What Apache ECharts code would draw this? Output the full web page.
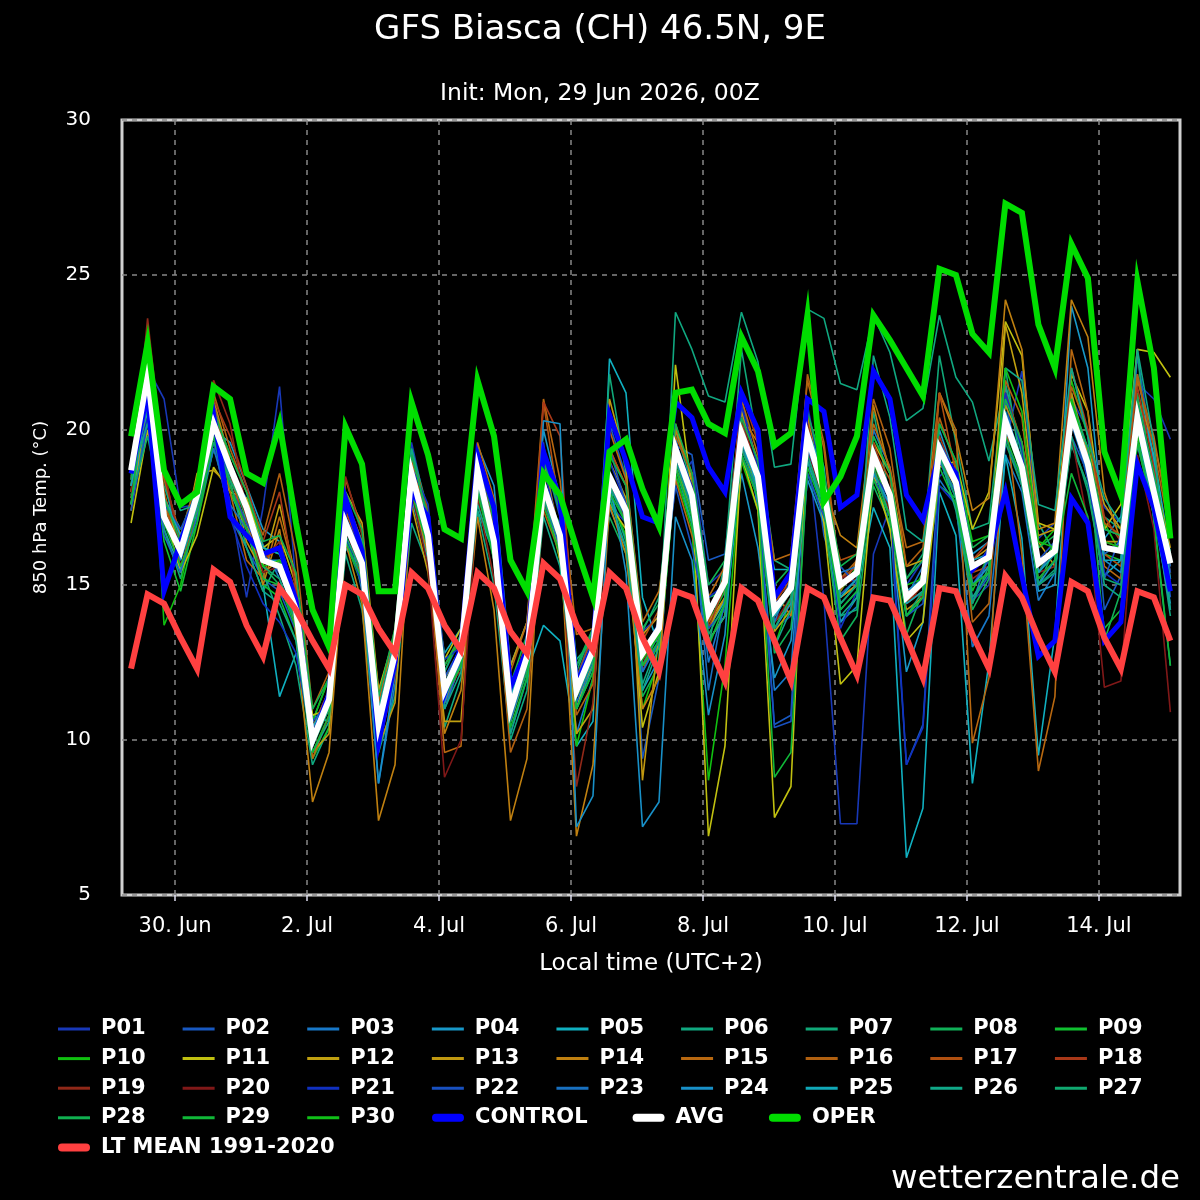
<!DOCTYPE html>
<html><head><meta charset="utf-8">
<script src="https://cdn.jsdelivr.net/npm/echarts@6/dist/echarts.min.js"></script>
<style>html,body{margin:0;padding:0;background:#000}#c{width:1200px;height:1200px}</style>
</head><body><div id="c"></div><script>
// lead time (hours after init 29 Jun 2026 00Z)
const leadHours = [6,12,18,24,30,36,42,48,54,60,66,72,78,84,90,96,102,108,114,120,126,132,138,144,150,156,162,168,174,180,186,192,198,204,210,216,222,228,234,240,246,252,258,264,270,276,282,288,294,300,306,312,318,324,330,336,342,348,354,360,366,372,378,384];
// x ticks: local midnight (UTC+2) as lead hours
const tickHours = [22,70,118,166,214,262,310,358];
const tickLabels = ['30. Jun','2. Jul','4. Jul','6. Jul','8. Jul','10. Jul','12. Jul','14. Jul'];

const P01 = [18.2,22.0,21.0,17.5, 17.6,19.8,17.7,14.6, 17.5,21.4,15.0,10.4, 11.6,17.4,16.0,10.8, 13.0,19.6,17.2,11.0, 12.5,18.2,17.5,10.2, 12.0,19.6,16.0,12.0, 13.5,17.6,17.0,13.5, 14.0,18.2,19.0,15.0, 15.5,21.0,18.8,13.6, 14.0,19.5,14.5,7.3, 7.3,16.0,17.5,15.0, 15.8,18.5,19.0,14.5, 15.0,19.5,21.9,16.5, 17.0,21.0,20.0,17.5, 17.0,21.5,21.0,19.7];
const P02 = [18.0,21.2,18.5,15.8, 17.5,19.6,17.2,16.2, 15.2,14.8,13.5,10.4, 11.0,16.6,15.0,10.2, 12.4,18.9,17.0,12.2, 13.3,19.4,17.0,11.5, 13.0,19.0,17.5,11.0, 12.5,20.2,18.5,9.4, 12.0,19.5,19.2,15.8, 16.0,20.8,17.5,10.5, 10.8,20.5,16.6,14.7, 15.2,18.8,17.3,9.2, 10.5,19.0,17.8,14.5, 15.3,21.0,18.2,15.2, 15.8,22.0,19.8,14.2, 15.3,22.4,19.0,14.6];
const P03 = [17.6,20.3,17.0,16.4, 17.9,20.5,18.6,17.8, 16.3,15.2,13.7,9.8, 11.5,17.2,14.8,8.6, 11.8,18.0,15.8,11.2, 12.6,19.0,16.8,10.6, 13.1,17.6,16.2,10.2, 12.0,18.0,16.5,12.6, 13.5,19.8,17.2,12.5, 14.4,20.5,17.5,11.6, 12.2,19.5,17.0,13.8, 14.3,20.0,18.8,14.0, 14.6,18.4,17.6,13.0, 14.0,19.2,18.0,14.5, 15.4,20.2,19.4,16.8, 16.6,19.5,17.5,14.2];
const P04 = [18.4,21.6,16.8,15.5, 17.4,20.0,19.6,18.2, 16.8,16.4,14.4,10.6, 12.0,17.8,16.4,11.2, 13.4,19.2,16.6,12.0, 13.0,19.5,18.2,12.4, 13.8,20.0,17.8,12.4, 13.4,17.5,16.2,11.6, 12.6,19.0,17.8,13.2, 14.0,18.6,16.2,12.0, 13.2,18.4,17.0,13.8, 14.6,18.6,16.9,12.2, 13.8,20.0,18.4,16.0, 16.4,21.4,19.2,14.8, 15.0,24.0,22.0,16.5, 17.2,21.8,19.0,15.0];
const P05 = [18.0,20.6,17.8,16.8, 17.2,19.4,18.0,16.8, 15.0,11.4,12.8,10.8, 10.6,16.2,15.4,11.0, 12.6,17.8,15.8,12.8, 13.6,17.4,16.0,12.0, 12.2,13.7,13.2,9.8, 10.6,22.3,21.2,14.6, 13.0,18.5,17.0,13.6, 14.5,19.0,18.0,15.5, 15.5,20.5,18.8,14.2, 14.8,17.5,16.2,6.2, 7.8,18.0,16.6,8.6, 12.5,19.2,16.5,9.5, 13.4,21.2,18.6,15.3, 15.8,21.0,19.2,16.0];
const P06 = [17.8,20.0,18.2,16.6, 18.4,20.8,19.0,17.0, 15.4,14.0,12.4,9.2, 10.4,16.0,14.2,9.6, 11.4,17.0,15.6,10.4, 12.0,17.4,15.0,10.0, 11.6,17.8,16.0,11.0, 12.2,18.0,16.4,11.8, 13.2,23.8,22.6,21.1, 20.9,23.8,22.2,18.8, 18.9,23.9,23.6,21.5, 21.3,23.7,22.5,20.3, 20.7,23.7,21.7,20.9, 19.0,21.5,19.2,17.0, 16.0,19.5,18.2,15.0, 14.6,20.0,17.6,14.0];
const P07 = [17.9,20.4,16.8,15.2, 18.2,20.2,18.4,16.2, 14.8,15.8,14.6,10.2, 11.2,16.8,15.6,10.4, 12.8,19.4,17.4,11.8, 12.4,18.8,16.8,11.4, 13.0,18.6,17.8,12.6, 13.2,21.8,18.6,13.5, 14.6,20.0,18.2,13.0, 15.8,22.6,19.5,15.8, 15.5,19.8,17.5,14.0, 14.2,20.6,17.8,15.2, 16.0,22.4,19.6,16.8, 17.0,22.0,18.6,15.0, 15.5,19.6,18.2,17.2, 16.8,22.6,17.0,12.4];
const P08 = [18.5,21.2,17.6,16.4, 17.8,19.8,18.4,17.2, 15.6,15.0,13.8,10.0, 11.6,17.6,16.2,10.8, 13.2,18.4,16.4,12.2, 13.4,18.0,16.0,10.6, 12.2,17.8,17.0,12.2, 13.6,17.2,16.0,11.4, 12.4,18.8,17.4,14.6, 14.8,19.6,18.2,12.8, 13.6,18.6,17.2,13.2, 14.0,18.2,17.0,13.4, 14.8,18.2,17.8,14.2, 15.2,20.6,18.4,15.0, 16.2,20.2,19.4,13.2, 14.8,21.2,18.0,15.8];
const P09 = [18.0,20.8,16.4,14.8, 17.0,19.4,18.0,17.0, 15.0,14.6,13.2,9.4, 10.4,16.4,15.0,10.4, 12.2,18.2,16.0,11.2, 12.6,18.4,16.2,11.2, 12.6,18.0,16.4,11.4, 12.8,18.4,17.0,12.4, 13.0,19.2,18.0,13.8, 14.8,19.6,18.6,14.6, 15.0,19.4,18.2,15.2, 15.6,19.0,17.4,14.4, 15.4,19.6,18.0,14.8, 16.0,20.0,18.6,15.4, 16.4,20.4,18.4,16.0, 15.8,20.2,17.6,15.4];
const P10 = [18.2,22.6,13.7,15.0, 17.6,20.6,19.2,18.0, 16.2,16.0,14.8,10.6, 12.0,17.2,15.8,10.0, 12.2,18.8,17.0,12.4, 13.2,19.0,16.6,10.8, 13.0,18.0,15.8,9.8, 12.0,17.8,16.6,11.0, 12.6,18.6,16.8,8.7, 12.4,19.0,17.4,13.0, 14.6,20.2,18.2,14.8, 15.6,19.8,18.6,15.0, 15.2,20.2,19.0,16.4, 16.6,21.2,19.6,16.2, 16.8,21.6,19.8,17.0, 16.0,19.8,17.4,14.8];
const P11 = [17.0,20.0,17.4,15.4, 16.6,18.8,18.0,17.8, 16.2,16.6,15.0,10.8, 11.0,16.8,16.2,11.6, 13.4,18.4,17.0,12.6, 13.6,18.6,16.2,10.6, 12.4,18.4,15.8,11.0, 12.8,17.6,16.8,10.4, 12.2,22.1,18.0,6.9, 9.8,19.2,17.4,7.5, 8.5,19.8,17.0,11.8, 12.4,18.6,16.8,13.2, 13.8,18.8,19.0,16.8, 18.0,23.5,22.4,17.0, 16.8,21.8,20.6,16.8, 17.6,22.6,22.5,21.7];
const P12 = [17.4,21.0,18.0,16.0, 18.6,18.7,18.2,17.0, 15.6,17.6,15.2,9.6, 10.2,18.0,17.0,11.6, 13.0,17.6,15.4,10.6, 10.6,18.0,17.2,12.4, 13.8,18.6,15.8,10.2, 11.0,19.0,17.8,13.4, 14.0,20.2,18.4,13.8, 14.6,20.6,19.0,13.5, 14.2,20.0,18.4,14.6, 15.0,19.6,18.6,15.6, 15.8,19.0,18.2,15.0, 15.4,23.4,21.2,16.4, 15.6,20.8,19.4,17.6, 16.8,20.8,18.4,15.2];
const P13 = [17.8,21.4,17.0,16.2, 17.4,20.4,18.8,16.4, 15.4,15.8,14.0,9.8, 11.4,17.2,15.2,9.8, 11.2,18.6,16.8,12.0, 12.8,19.0,16.6,10.8, 12.6,18.2,16.4,11.4, 12.4,21.0,19.0,8.7, 13.4,18.8,17.4,13.6, 14.6,19.4,18.2,14.0, 14.8,19.6,17.8,14.6, 15.0,18.8,17.2,14.2, 14.6,19.2,18.6,15.8, 16.2,20.8,19.6,16.6, 16.8,21.2,19.2,16.4, 16.4,20.6,18.6,16.2];
const P14 = [17.6,22.0,17.8,16.0, 18.0,21.0,19.0,17.2, 15.0,16.8,13.4,8.0, 9.6,16.4,14.4,7.4, 9.2,18.0,16.0,10.2, 11.6,17.2,14.2,7.4, 9.4,19.0,16.6,6.9, 9.2,17.6,16.0,11.0, 12.0,20.0,18.6,13.2, 14.0,20.4,19.6,14.8, 14.0,20.4,18.2,16.6, 16.2,20.8,18.6,14.4, 14.8,21.2,19.8,17.4, 17.8,24.2,22.6,16.8, 17.0,24.2,23.0,18.0, 16.4,21.0,19.6,17.2];
const P15 = [18.2,22.2,17.6,16.0, 17.8,20.6,18.0,15.8, 15.2,17.2,15.2,9.4, 10.8,18.4,16.8,11.2, 13.6,18.2,16.2,9.6, 9.8,19.6,17.8,12.2, 13.8,21.0,18.4,13.4, 13.6,20.0,18.4,13.8, 14.8,18.4,16.6,14.6, 15.6,21.0,19.2,15.8, 16.0,21.6,19.4,14.8, 15.8,20.2,18.8,16.2, 16.4,21.2,20.0,9.9, 12.0,20.4,16.0,9.0, 11.4,22.6,20.6,15.6, 15.2,21.6,19.8,16.8];
const P16 = [18.0,21.8,18.4,16.6, 18.4,21.2,19.4,18.0, 16.6,18.6,16.0,11.0, 12.2,17.8,16.4,10.6, 12.6,19.0,17.0,11.2, 12.4,18.4,15.8,9.6, 11.0,17.4,16.0,10.8, 11.8,19.4,18.2,12.2, 13.6,19.8,18.6,14.2, 15.0,20.0,18.8,13.8, 14.4,21.8,19.6,15.2, 15.8,21.0,19.4,15.6, 16.2,20.4,18.8,13.8, 14.4,21.6,20.4,15.8, 16.0,21.4,20.0,17.0, 16.6,21.8,19.4,16.6];
const P17 = [18.4,22.4,18.0,15.6, 17.2,20.8,18.6,16.8, 15.8,16.2,14.8,10.4, 11.6,17.4,16.0,10.6, 13.0,19.2,17.4,12.4, 13.4,19.2,16.8,11.6, 13.2,20.9,17.4,12.0, 13.4,19.4,18.2,13.2, 14.2,19.6,17.6,13.8, 15.4,20.2,18.4,14.4, 15.2,19.6,17.8,15.8, 16.0,19.4,18.4,14.8, 15.0,21.2,18.6,15.4, 15.6,20.2,19.0,15.4, 16.2,20.8,19.0,16.0, 15.6,20.6,18.2,15.0];
const P18 = [18.6,23.2,18.6,16.4, 17.6,21.0,19.8,18.2, 16.4,18.0,14.8,10.2, 11.4,17.0,15.2,10.0, 12.4,18.6,16.2,11.4, 12.8,18.8,16.4,11.0, 12.6,20.9,19.8,11.8, 12.6,18.6,17.0,12.6, 13.4,19.6,18.0,13.6, 15.0,21.2,19.6,14.0, 14.8,20.6,18.4,15.2, 15.6,19.6,18.0,14.4, 15.0,19.8,18.4,15.8, 16.4,21.2,19.6,15.6, 16.2,22.0,20.0,17.2, 16.4,21.4,18.8,15.6];
const P19 = [18.0,23.6,18.8,16.0, 17.8,21.6,20.2,17.4, 15.8,16.4,14.6,9.6, 10.8,18.5,16.6,9.8, 12.0,18.2,16.8,11.8, 12.2,17.8,15.2,10.8, 12.4,17.6,16.6,8.5, 11.2,18.2,17.4,12.4, 13.8,19.4,18.2,14.2, 15.2,20.4,18.6,14.6, 15.0,20.2,18.0,15.0, 15.2,19.4,17.8,14.8, 14.6,19.2,18.2,15.2, 15.6,20.2,18.6,15.4, 15.6,20.4,19.0,16.4, 16.2,20.6,18.0,15.4];
const P20 = [17.8,21.6,17.4,16.2, 17.6,20.4,18.8,17.2, 15.4,15.6,14.2,10.2, 11.2,16.8,15.4,10.2, 12.6,18.0,15.6,8.8, 10.0,18.0,16.4,11.2, 12.8,18.0,16.2,11.6, 12.6,18.4,17.2,12.6, 13.4,19.2,17.8,14.2, 15.0,19.6,18.2,13.8, 14.6,19.4,17.6,15.2, 15.4,18.8,17.4,14.4, 14.8,19.0,18.0,15.4, 16.0,20.4,18.6,15.2, 15.8,19.8,17.0,11.7, 11.9,19.2,16.8,10.9];
const P21 = [18.4,20.4,17.0,16.4, 18.2,19.6,17.2,15.6, 14.4,13.8,12.8,9.8, 11.6,16.6,15.0,10.6, 12.8,18.8,17.6,12.6, 13.0,19.2,16.6,11.2, 12.4,18.8,16.6,11.8, 13.0,19.0,17.6,12.2, 13.2,19.6,18.2,14.6, 15.0,20.8,18.8,14.4, 14.8,20.8,18.0,13.6, 14.8,18.6,17.8,9.2, 10.4,18.2,17.6,15.4, 16.2,21.2,19.4,15.0, 15.4,20.4,18.4,15.4, 15.0,20.6,18.4,15.2];
const P22 = [17.4,20.2,17.6,16.8, 18.0,20.4,18.2,17.0, 16.0,15.4,14.0,10.6, 11.2,17.2,16.0,10.8, 12.6,18.4,16.8,12.0, 13.0,18.8,16.4,11.4, 12.8,19.2,17.2,12.0, 13.2,19.4,17.6,12.8, 13.8,18.2,16.2,13.6, 14.2,19.2,18.0,10.4, 10.6,18.6,17.2,15.6, 15.0,18.4,17.6,14.0, 14.4,19.6,18.6,15.0, 15.8,19.8,18.2,15.8, 16.4,19.8,18.6,15.2, 16.6,21.0,18.4,15.4];
const P23 = [18.2,20.8,16.6,15.4, 17.2,19.4,17.6,16.8, 15.8,15.6,14.6,10.0, 11.4,16.4,15.2,9.6, 12.4,18.2,16.2,11.0, 12.6,18.4,15.8,10.6, 12.4,17.8,16.2,11.2, 12.6,18.2,17.2,12.2, 13.2,19.0,17.6,11.6, 14.6,19.4,18.4,13.8, 15.2,19.4,18.0,15.4, 15.6,18.6,17.6,14.6, 15.6,19.0,18.0,14.4, 16.0,20.0,18.8,15.4, 16.2,20.2,18.6,16.0, 16.4,20.4,18.2,15.6];
const P24 = [17.6,21.2,17.4,15.8, 17.6,20.0,18.6,17.4, 15.8,15.8,14.2,10.0, 11.0,16.8,15.6,8.6, 12.2,18.6,16.8,11.2, 12.8,18.4,16.0,10.8, 12.6,20.3,20.2,7.2, 8.2,18.4,15.4,7.2, 8.0,17.2,15.8,10.8, 13.4,20.0,18.0,13.6, 14.4,19.0,17.4,14.4, 15.0,18.6,17.6,14.8, 15.2,19.6,18.2,15.0, 15.6,20.6,19.0,15.0, 15.8,20.8,19.4,15.8, 15.4,20.2,17.2,14.4];
const P25 = [18.2,21.0,17.8,16.6, 18.0,20.2,18.6,17.6, 16.2,16.0,14.4,10.4, 11.4,17.0,15.8,10.6, 12.8,18.8,16.8,11.8, 13.0,18.6,16.6,11.4, 12.8,18.4,16.8,11.8, 13.0,18.6,17.4,12.8, 13.6,19.4,17.6,14.0, 15.0,19.6,18.2,14.0, 14.8,20.0,18.6,14.6, 15.2,19.4,18.0,14.4, 14.8,19.4,18.6,15.8, 16.0,20.2,18.6,15.4, 16.0,20.6,18.8,15.8, 15.8,20.4,18.2,15.2];
const P26 = [18.6,20.2,18.8,17.4, 17.6,19.8,17.4,16.2, 14.8,14.4,13.2,9.6, 10.6,17.6,16.4,11.0, 13.2,19.4,17.0,11.0, 12.2,17.6,16.0,10.2, 12.0,17.2,15.6,11.0, 12.4,17.8,16.2,11.6, 13.0,18.8,17.0,13.2, 14.0,19.2,17.8,13.0, 14.2,19.0,17.6,14.0, 14.6,22.4,20.4,16.8, 16.4,19.2,17.4,14.6, 15.4,22.0,21.6,17.6, 17.4,22.0,19.8,17.8, 17.0,22.6,19.6,14.2];
const P27 = [17.8,19.8,17.2,16.0, 17.4,19.6,18.4,17.4, 15.6,15.2,13.8,9.8, 11.0,16.6,15.4,10.0, 12.4,18.2,16.4,11.4, 12.4,18.2,16.0,10.8, 12.4,17.8,16.4,11.4, 12.6,18.2,17.0,12.4, 13.4,19.0,17.4,13.4, 14.4,19.4,18.0,13.6, 14.6,19.2,17.6,14.4, 15.0,18.8,17.2,14.0, 14.8,19.2,17.8,14.4, 15.6,19.6,18.2,15.0, 15.4,19.8,18.0,15.2, 15.0,19.6,17.8,15.0];
const P28 = [18.4,21.4,17.8,16.4, 18.2,20.6,19.2,18.0, 16.4,16.6,15.4,11.0, 12.0,18.0,16.8,11.4, 13.6,19.2,17.2,12.4, 13.4,19.4,17.0,11.8, 13.4,19.0,17.4,12.4, 13.6,19.2,18.2,13.6, 14.4,20.2,18.6,15.0, 15.8,20.4,19.0,15.0, 15.6,20.6,18.6,15.6, 16.0,19.8,18.6,15.2, 15.8,20.2,19.0,16.2, 16.6,21.0,19.6,16.2, 16.6,21.0,19.4,16.8, 16.6,21.0,18.6,16.0];
const P29 = [17.6,21.8,17.0,15.6, 17.0,19.8,18.2,16.8, 15.2,15.0,13.6,9.6, 10.8,16.4,15.2,10.0, 12.2,18.0,16.2,11.4, 12.4,18.0,15.8,10.4, 12.0,17.6,16.0,11.0, 12.2,18.0,17.0,12.4, 13.2,18.8,17.2,13.0, 14.4,19.2,17.8,8.8, 9.6,18.8,17.4,14.2, 14.8,18.4,17.2,14.0, 14.6,18.8,17.6,15.0, 15.4,19.8,18.4,15.2, 15.8,18.6,17.2,13.6, 14.2,19.6,17.2,12.4];
const P30 = [18.6,22.0,17.4,16.0, 18.0,20.2,18.8,17.6, 15.6,15.8,14.4,10.2, 11.4,17.0,15.8,10.4, 12.8,18.6,16.6,11.6, 12.8,18.6,16.4,11.0, 12.6,18.2,16.6,11.6, 12.8,18.4,17.4,12.6, 13.4,19.4,17.8,14.0, 15.0,19.8,18.4,14.2, 14.8,19.8,18.0,15.0, 15.4,19.2,17.8,14.6, 15.0,19.4,18.2,15.6, 15.8,22.0,20.6,16.4, 16.2,21.0,19.0,16.4, 16.2,20.4,18.0,15.8];

const CONTROL = [18.6,21.2,14.8,16.4, 17.9,20.5,17.2,16.6, 16.0,16.2,14.5,10.0, 11.5,17.8,16.1,9.9, 12.5,18.0,17.2,11.5, 13.0,19.2,17.5,11.7, 12.9,19.3,17.8,11.8, 13.0,20.5,19.0,17.2, 17.0,20.9,20.4,18.8, 18.0,21.2,20.0,14.6, 15.4,21.0,20.6,17.5, 17.9,21.9,21.0,17.9, 17.1,19.3,18.6,15.5, 16.0,18.0,15.3,12.7, 13.2,17.8,17.0,13.2, 13.8,18.9,17.5,14.8];
const AVG = [18.7,21.8,17.2,16.1, 17.9,20.2,18.8,17.5, 15.8,15.6,14.2,10.0, 11.3,17.0,15.7,10.5, 12.8,18.6,16.6,11.6, 12.8,18.7,16.4,11.0, 12.7,18.2,16.6,11.6, 12.9,18.5,17.4,12.8, 13.6,19.4,17.9,14.1, 15.1,19.9,18.5,14.2, 14.9,19.8,18.0,15.0, 15.4,19.2,17.9,14.6, 15.1,19.4,18.3,15.6, 15.9,20.3,18.8,15.7, 16.1,20.5,18.9,16.2, 16.1,20.4,18.0,15.7];
const OPER = [19.8,22.8,18.7,17.6, 18.0,21.4,21.0,18.6, 18.3,20.2,17.0,14.2, 13.0,20.1,18.9,14.8, 14.8,20.9,19.2,16.8, 16.5,21.6,19.8,15.8, 14.8,18.6,17.9,16.2, 14.6,19.3,19.7,18.1, 16.9,21.2,21.3,20.2, 19.9,23.0,21.9,19.5, 19.9,23.7,17.7,18.5, 19.8,23.7,22.9,22.0, 21.1,25.2,25.0,23.1, 22.5,27.3,27.0,23.4, 22.0,26.0,24.9,19.3, 17.9,24.8,22.0,16.5];
const LT_MEAN = [12.3,14.7,14.4,13.3, 12.3,15.5,15.1,13.7, 12.7,14.9,14.2,13.2, 12.3,15.0,14.7,13.6, 12.8,15.4,14.9,13.7, 12.9,15.4,14.9,13.5, 12.8,15.7,15.2,13.7, 12.9,15.4,14.9,13.3, 12.2,14.8,14.6,13.1, 11.9,14.9,14.5,13.2, 11.9,14.9,14.6,13.3, 12.1,14.6,14.5,13.3, 12.0,14.9,14.8,13.4, 12.3,15.3,14.6,13.3, 12.2,15.1,14.8,13.3, 12.3,14.8,14.6,13.2];

const memberNames = ['P01','P02','P03','P04','P05','P06','P07','P08','P09','P10','P11','P12','P13','P14','P15','P16','P17','P18','P19','P20','P21','P22','P23','P24','P25','P26','P27','P28','P29','P30'];
const memberValues = [P01,P02,P03,P04,P05,P06,P07,P08,P09,P10,P11,P12,P13,P14,P15,P16,P17,P18,P19,P20,P21,P22,P23,P24,P25,P26,P27,P28,P29,P30];
const memberColors = ['#1838b8','#1858c0','#1878c8','#1898c8','#10b0c0','#10a880','#10a878','#10b058','#10c030','#10c010',
  '#c0c010','#c0a010','#c09810','#c08010','#b86810','#b06010','#b05010','#a83818','#902818','#801818',
  '#1030c0','#1850c0','#1870c0','#1890c8','#10a8b8','#10a888','#10a870','#10b050','#10b838','#10c018'];

const mainLines = [
  {name:'CONTROL', values: CONTROL, color:'#0000ff', width:5},
  {name:'AVG', values: AVG, color:'#ffffff', width:6},
  {name:'OPER', values: OPER, color:'#00dd00', width:6},
  {name:'LT MEAN 1991-2020', values: LT_MEAN, color:'#ff4040', width:6}
];

const FONT = 'DejaVu Sans';
const pairs = arr => leadHours.map((h,i)=>[h, arr[i]]);

const series = [];
memberNames.forEach((n,k)=>{
  series.push({type:'line', name:n, data:pairs(memberValues[k]), showSymbol:false, symbol:'none',
    color:memberColors[k], lineStyle:{color:memberColors[k], width:1.6}, silent:true, animation:false, z:2});
});
mainLines.forEach(m=>{
  series.push({type:'line', name:m.name, data:pairs(m.values), showSymbol:false, symbol:'none',
    color:m.color, lineStyle:{color:m.color, width:m.width, join:'miter'}, silent:true, animation:false, z:3});
});

const colorOf = {};
memberNames.forEach((n,k)=>colorOf[n]=memberColors[k]);
mainLines.forEach(m=>colorOf[m.name]=m.color);
const thinIcon = 'path://M0,0H32V3H0Z';
const thickIcon = 'path://M4,0H28A4,4,0,0,1,28,8H4A4,4,0,0,1,4,0Z';
// legend groups: [items, left, row, gap]
const legendGroups = [
  [['P01','P02','P03','P04','P05','P06','P07','P08','P09'], 58, 0, 37],
  [['P10','P11','P12','P13','P14','P15','P16','P17','P18'], 58, 1, 37],
  [['P19','P20','P21','P22','P23','P24','P25','P26','P27'], 58, 2, 37],
  [['P28','P29','P30'], 58, 3, 37],
  [['CONTROL','AVG','OPER'], 432, 3, 45],
  [['LT MEAN 1991-2020'], 58, 4, 37]
];
const legends = legendGroups.map(([items,left,row,gap])=>({
  orient:'horizontal', left:left, top: 1018 + row*29.6, width:1100, padding:0, itemGap:gap,
  itemWidth:32, itemHeight:10, selectedMode:false,
  textStyle:{color:'#fff', fontSize:21, fontWeight:'bold', fontFamily:FONT, lineHeight:22, padding:[0,0,0,6]},
  data: items.map(n=>({name:n, icon: /^P\d\d$/.test(n) ? thinIcon : thickIcon,
    itemStyle:{color:colorOf[n], borderWidth:0}}))
}));

const chart = echarts.init(document.getElementById('c'), null, {renderer:'canvas'});
chart.setOption({
  backgroundColor:'#000',
  animation:false,
  textStyle:{fontFamily:FONT},
  title:[
    {text:'GFS Biasca (CH) 46.5N, 9E', left:'center', top:8, textStyle:{color:'#fff', fontSize:34, fontWeight:'normal', fontFamily:FONT, lineHeight:34}},
    {text:'Init: Mon, 29 Jun 2026, 00Z', left:'center', top:77, textStyle:{color:'#fff', fontSize:23.5, fontWeight:'normal', fontFamily:FONT, lineHeight:24}}
  ],
  legend: legends,
  grid:{left:122, right:20, top:120, bottom:305, show:true, borderColor:'#d0d0d0', borderWidth:3, backgroundColor:'#000'},
  xAxis:{
    type:'value', min:2.7, max:387.5,
    axisLine:{show:false},
    axisTick:{show:true, customValues:tickHours, length:6, lineStyle:{color:'#dde', width:1.5}},
    axisLabel:{customValues:tickHours, formatter:v=>tickLabels[tickHours.indexOf(v)], color:'#fff', fontSize:21, fontFamily:FONT, margin:21},
    splitLine:{show:true, lineStyle:{color:'#888', type:[5,5], width:1.5}},
    name:'Local time (UTC+2)', nameLocation:'middle', nameGap:58,
    nameTextStyle:{color:'#fff', fontSize:23, fontFamily:FONT}
  },
  yAxis:{
    type:'value', min:5, max:30, interval:5,
    axisLine:{show:false}, axisTick:{show:false},
    axisLabel:{color:'#fff', fontSize:20, fontFamily:FONT, margin:31},
    splitLine:{show:true, lineStyle:{color:'#888', type:[5,5], width:1.5}},
    name:'850 hPa Temp. (°C)', nameLocation:'middle', nameGap:72, nameRotate:90,
    nameTextStyle:{color:'#fff', fontSize:18, fontFamily:FONT}
  },
  graphic:[{type:'text', right:20, top:1163, style:{text:'wetterzentrale.de', fill:'#fff', fontSize:32.5, fontFamily:FONT}}],
  series: series
});
</script></body></html>
